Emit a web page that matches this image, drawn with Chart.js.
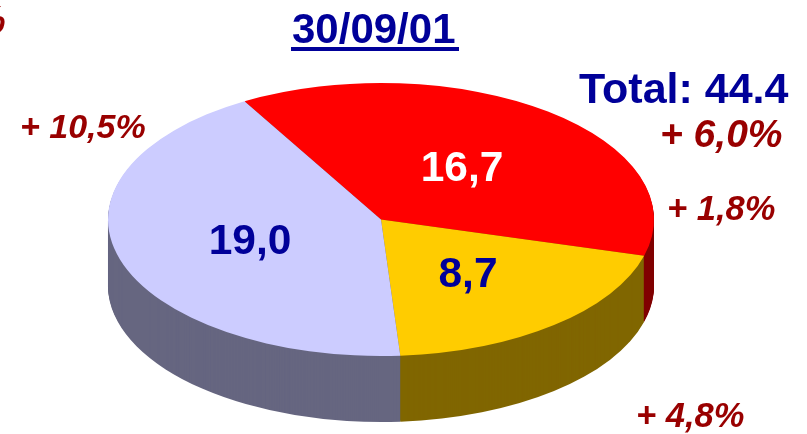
<!DOCTYPE html>
<html>
<head>
<meta charset="utf-8">
<title>30/09/01</title>
<script src="https://cdn.jsdelivr.net/npm/chart.js@4/dist/chart.umd.js"></script>
<style>
    html, body { margin: 0; padding: 0; background: #fff; overflow: hidden; }
    canvas { display: block; }
</style>
</head>
<body>
<canvas id="pieChart" width="807" height="434"></canvas>
<script>
// --- data ---
const categories = ['A', 'B', 'C'];
const values = [16.7, 8.7, 19.0];
const valueLabels = ['16,7', '8,7', '19,0'];
const growthLabels = ['+ 10,5%', '+ 6,0%', '+ 1,8%', '+ 4,8%', '%'];
const titleText = '30/09/01';
const totalText = 'Total: 44.4';

// --- styles ---
const topColors = ['#ff0000', '#ffcc00', '#ccccff'];
const sideColors = ['#800000', '#806600', '#666680'];
const valueColors = ['#ffffff', '#000099', '#000099'];
const NAVY = '#000099';
const DARK_RED = '#990000';
const FONT = '"Liberation Sans", Arial, sans-serif';
const SQUASH = 0.5;  // tilt of the pie
const DEPTH = 66;    // height of the side wall in px

// where the texts sit: [x, y, font size]
const valuePos = [[462, 181], [468, 287], [250, 254]];
const growthPos = [[20, 138, 34], [660, 147, 39], [667, 220, 34.5], [636, 427, 34.5], [-29, 33, 39]];

// squash the pie into an ellipse and draw the side wall under it
const tiltPlugin = {
    id: 'tilt',
    beforeDatasetsDraw(chart) {
        const ctx = chart.ctx;
        const arcs = chart.getDatasetMeta(0).data;
        const cx = arcs[0].x, cy = arcs[0].y;
        ctx.save();
        ctx.translate(0, cy);
        ctx.scale(1, SQUASH);
        ctx.translate(0, -cy);
        // bottom layer first, each layer one px higher
        for (let d = DEPTH; d > 0; d--) {
            arcs.forEach(function (arc, i) {
                ctx.beginPath();
                ctx.moveTo(cx, cy + d / SQUASH);
                ctx.arc(cx, cy + d / SQUASH, arc.outerRadius, arc.startAngle, arc.endAngle);
                ctx.closePath();
                ctx.fillStyle = sideColors[i];
                ctx.fill();
            });
        }
    },
    afterDatasetsDraw(chart) {
        chart.ctx.restore();
    },
    afterDraw(chart) {
        const ctx = chart.ctx;
        ctx.save();
        ctx.textAlign = 'left';
        ctx.textBaseline = 'alphabetic';

        // title with underline
        ctx.font = 'bold 42px ' + FONT;
        ctx.fillStyle = NAVY;
        ctx.fillText(titleText, 292, 43);
        ctx.fillRect(291, 47, 168, 4);

        ctx.font = 'bold 43px ' + FONT;
        ctx.fillText(totalText, 579, 103);

        ctx.font = 'bold 42.5px ' + FONT;
        ctx.textAlign = 'center';
        valueLabels.forEach(function (label, i) {
            ctx.fillStyle = valueColors[i];
            ctx.fillText(label, valuePos[i][0], valuePos[i][1]);
        });

        ctx.textAlign = 'left';
        ctx.fillStyle = DARK_RED;
        growthLabels.forEach(function (label, i) {
            ctx.font = 'italic bold ' + growthPos[i][2] + 'px ' + FONT;
            ctx.fillText(label, growthPos[i][0], growthPos[i][1]);
        });
        ctx.restore();
    }
};

const ctxPie = document.getElementById('pieChart').getContext('2d');
const pieChart = new Chart(ctxPie, {
    type: 'pie',
    data: {
        labels: categories,
        datasets: [{
            data: values,
            backgroundColor: topColors,
            borderWidth: 0,
            clip: false
        }]
    },
    options: {
        responsive: false,
        animation: false,
        rotation: -30,
        radius: 273,
        layout: { padding: { right: 45, top: 5 } },
        plugins: {
            legend: { display: false },
            tooltip: { enabled: false }
        }
    },
    plugins: [tiltPlugin]
});
</script>
</body>
</html>
